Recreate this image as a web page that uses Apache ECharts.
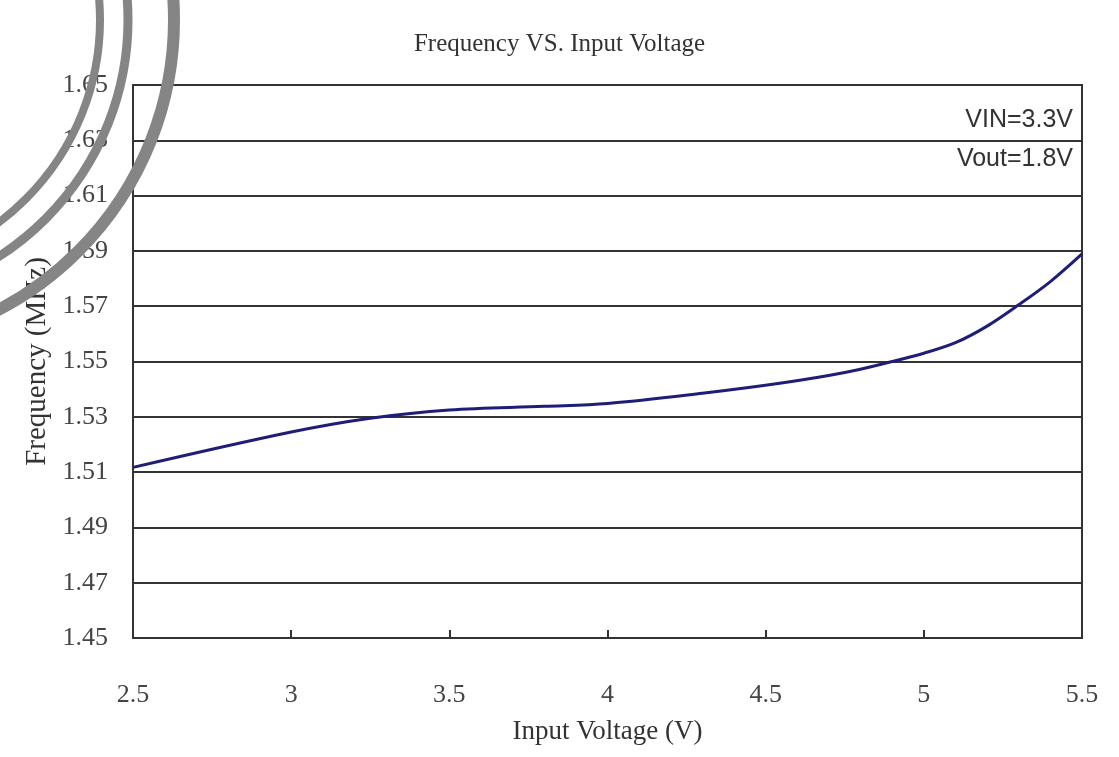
<!DOCTYPE html>
<html>
<head>
<meta charset="utf-8">
<script src="https://cdn.jsdelivr.net/npm/echarts@6/dist/echarts.min.js"></script>
<style>html,body{margin:0;padding:0;background:#fff}#c{width:1119px;height:757px}</style>
</head>
<body>
<div id="c"></div>
<script>
// Data
const inputVoltage = [2.5, 3.0, 3.25, 3.5, 3.8, 4.0, 4.3, 4.55, 4.75, 4.9, 5.0, 5.1, 5.2, 5.3, 5.4, 5.5];
const frequencyMHz = [1.5117, 1.5245, 1.5295, 1.5325, 1.5338, 1.5348, 1.5385, 1.5422, 1.5460, 1.5500, 1.5530, 1.5568, 1.5628, 1.5705, 1.5789, 1.5889];
const xTicks = [2.5, 3, 3.5, 4, 4.5, 5, 5.5];
const yTickLabels = ['1.45','1.47','1.49','1.51','1.53','1.55','1.57','1.59','1.61','1.63','1.65'];
const Y_BASE = 1.45; // axis starts here; offset so ticks align with min
const notes = ['VIN=3.3V', 'Vout=1.8V'];

const chart = echarts.init(document.getElementById('c'));
const serif = '"Liberation Serif", "Times New Roman", serif';
const sans = '"Liberation Sans", Arial, sans-serif';

chart.setOption({
  animation: false,
  backgroundColor: '#fff',
  title: {
    text: 'Frequency VS. Input Voltage',
    left: 'center',
    top: 27,
    textStyle: { fontFamily: serif, fontSize: 25, fontWeight: 'normal', color: '#333' }
  },
  grid: {
    left: 133, right: 37, top: 85, bottom: 119,
    containLabel: false, outerBoundsMode: 'none',
    show: true, borderColor: '#333', borderWidth: 2, backgroundColor: 'transparent'
  },
  xAxis: {
    type: 'value',
    min: xTicks[0], max: xTicks[xTicks.length - 1], interval: 0.5,
    name: 'Input Voltage (V)',
    nameLocation: 'middle',
    nameGap: 80,
    nameTextStyle: { fontFamily: serif, fontSize: 27, color: '#333' },
    axisLine: { show: true, lineStyle: { color: '#333', width: 2 } },
    axisTick: { show: true, inside: true, length: 8, lineStyle: { color: '#333', width: 2 } },
    axisLabel: { margin: 44, fontFamily: serif, fontSize: 26, color: '#444',
      formatter: v => String(v) },
    splitLine: { show: false }
  },
  yAxis: {
    type: 'value',
    min: 0, max: 0.2, interval: 0.02,
    name: 'Frequency (MHz)',
    nameLocation: 'middle',
    nameGap: 76,
    nameRotate: 90,
    nameTextStyle: { fontFamily: serif, fontSize: 29, color: '#333' },
    axisLine: { show: true, lineStyle: { color: '#333', width: 2 } },
    axisTick: { show: false },
    axisLabel: { margin: 25, fontFamily: serif, fontSize: 26, color: '#444',
      formatter: v => yTickLabels[Math.round(v / 0.02)] },
    splitLine: { show: true, lineStyle: { color: '#333', width: 2 } }
  },
  series: [{
    type: 'line',
    data: inputVoltage.map((x, i) => [x, frequencyMHz[i] - Y_BASE]),
    smooth: 0.35,
    symbol: 'none',
    lineStyle: { color: '#1e1e78', width: 3 },
    z: 5
  }],
  graphic: [
    { type: 'text', right: 46, top: 108, z: 10,
      style: { text: notes[0], font: '25px ' + sans, fill: '#333', textAlign: 'right' } },
    { type: 'text', right: 46, top: 147, z: 10,
      style: { text: notes[1], font: '25px ' + sans, fill: '#333', textAlign: 'right' } },
    { type: 'circle', z: 20, silent: true, shape: { cx: -153, cy: 20, r: 327 },
      style: { fill: 'none', stroke: '#858585', lineWidth: 12 } },
    { type: 'circle', z: 20, silent: true, shape: { cx: -153, cy: 20, r: 281 },
      style: { fill: 'none', stroke: '#858585', lineWidth: 9 } },
    { type: 'circle', z: 20, silent: true, shape: { cx: -153, cy: 20, r: 253 },
      style: { fill: 'none', stroke: '#858585', lineWidth: 8 } }
  ]
});
</script>
</body>
</html>
